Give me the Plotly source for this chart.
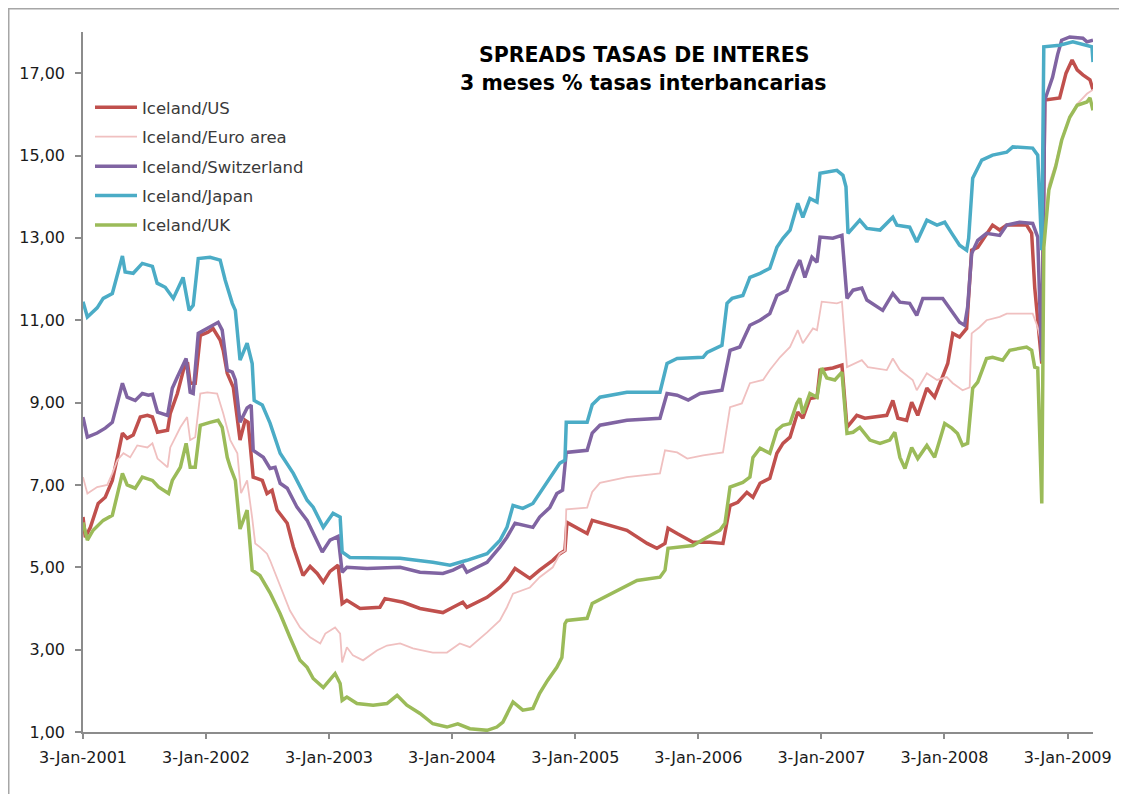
import plotly.graph_objects as go

# ---------------- data ----------------
series_names = ["Iceland/US", "Iceland/Euro area", "Iceland/Switzerland", "Iceland/Japan", "Iceland/UK"]

us_dates = ["2001-01-03","2001-01-10","2001-01-25","2001-02-17","2001-03-10","2001-03-31","2001-04-15","2001-04-30","2001-05-14","2001-06-01","2001-06-22","2001-07-13","2001-07-28","2001-08-12","2001-09-11","2001-09-19","2001-10-10","2001-10-28","2001-11-09","2001-11-17","2001-12-02","2001-12-17",
            "2002-01-09","2002-01-24","2002-02-14","2002-02-23","2002-03-07","2002-03-25","2002-04-14","2002-04-29","2002-05-08","2002-05-23","2002-06-19","2002-07-03","2002-07-18","2002-08-02","2002-09-01","2002-09-19","2002-10-18","2002-11-08","2002-11-29","2002-12-17",
            "2003-01-06","2003-01-30","2003-02-11","2003-02-25","2003-04-05","2003-06-03","2003-06-18","2003-08-11","2003-09-30","2003-12-07",
            "2004-01-06","2004-02-04","2004-02-16","2004-04-16","2004-05-24","2004-06-14","2004-07-08","2004-08-21","2004-09-19","2004-10-28","2004-11-18","2004-12-03","2004-12-09",
            "2005-02-07","2005-02-22","2005-03-17","2005-06-05","2005-08-04","2005-09-02","2005-09-26","2005-10-05","2005-11-01","2005-12-18",
            "2006-02-06","2006-03-17","2006-04-07","2006-04-30","2006-05-27","2006-06-14","2006-07-05","2006-08-03","2006-08-24","2006-09-11","2006-10-02","2006-10-25","2006-11-09","2006-11-30","2006-12-21","2006-12-30",
            "2007-02-06","2007-03-05","2007-03-20","2007-04-18","2007-05-12","2007-07-16","2007-08-03","2007-08-18","2007-09-13","2007-09-28","2007-10-16","2007-11-12","2007-12-05","2007-12-29",
            "2008-01-13","2008-01-28","2008-02-17","2008-03-09","2008-03-24","2008-04-11","2008-05-07","2008-05-25","2008-06-15","2008-07-06","2008-09-03","2008-09-18","2008-09-27","2008-10-18","2008-10-27","2008-12-10","2008-12-29",
            "2009-01-16","2009-01-31","2009-02-17","2009-03-10","2009-03-19"]
us_vals = [6.22,5.73,5.97,6.55,6.7,7.11,7.67,8.26,8.13,8.21,8.65,8.69,8.65,8.28,8.33,8.74,9.22,9.79,9.98,9.47,9.47,10.63,
           10.71,10.8,10.52,10.27,9.71,9.37,8.09,8.57,8.52,7.19,7.11,6.79,6.87,6.39,6.07,5.5,4.8,5.02,4.85,4.64,
           4.9,5.05,4.12,4.2,4.0,4.03,4.24,4.15,4.0,3.9,
           4.03,4.15,4.03,4.27,4.51,4.68,4.97,4.73,4.93,5.17,5.33,5.41,6.09,
           5.82,6.14,6.09,5.9,5.58,5.46,5.58,5.95,5.82,5.61,
           5.61,5.58,6.5,6.58,6.82,6.7,7.04,7.16,7.77,8.01,8.16,8.77,8.62,9.1,9.13,9.79,
           9.84,9.91,8.4,8.69,8.62,8.69,9.05,8.62,8.57,9.01,8.69,9.35,9.13,9.62,
           9.95,10.68,10.59,10.8,12.7,12.77,13.11,13.31,13.19,13.31,13.31,13.11,11.8,9.95,16.35,16.4,17.0,
           17.32,17.08,16.96,16.84,16.6]

euro_dates = ["2001-01-03","2001-01-16","2001-02-14","2001-03-16","2001-03-31","2001-04-15","2001-05-03","2001-05-23","2001-06-13","2001-07-13","2001-07-28","2001-08-12","2001-09-11","2001-09-19","2001-10-19","2001-11-08","2001-11-17","2001-12-02","2001-12-17",
              "2002-01-07","2002-02-05","2002-02-23","2002-03-16","2002-04-06","2002-04-17","2002-05-05","2002-05-20","2002-05-29","2002-06-12","2002-07-03","2002-07-12","2002-08-11","2002-09-09","2002-10-09","2002-11-08","2002-12-08","2002-12-23",
              "2003-01-21","2003-02-05","2003-02-11","2003-02-25","2003-03-15","2003-04-14","2003-05-25","2003-06-24","2003-08-02","2003-09-09","2003-11-07","2003-12-19",
              "2004-01-26","2004-02-25","2004-04-16","2004-05-24","2004-06-14","2004-07-02","2004-08-21","2004-09-19","2004-10-28","2004-11-18","2004-12-03","2004-12-07",
              "2005-02-07","2005-02-22","2005-03-17","2005-06-05","2005-09-11","2005-09-26","2005-11-01","2005-12-01",
              "2006-01-17","2006-03-17","2006-04-07","2006-05-12","2006-06-05","2006-07-14","2006-08-03","2006-09-02","2006-10-02","2006-10-25","2006-11-09","2006-12-09","2006-12-21",
              "2007-01-04","2007-02-18","2007-03-05","2007-03-20","2007-05-03","2007-05-21","2007-07-16","2007-08-03","2007-08-24","2007-10-01","2007-10-13","2007-11-12","2007-12-12",
              "2008-01-10","2008-01-28","2008-02-26","2008-03-18","2008-03-24","2008-04-16","2008-05-07","2008-06-15","2008-07-06","2008-09-21","2008-10-06","2008-10-15","2008-10-27","2008-11-08","2008-11-28","2008-12-16",
              "2009-01-09","2009-01-31","2009-03-01","2009-03-19"]
euro_vals = [7.19,6.79,6.95,7.0,7.28,7.6,7.77,7.67,7.96,7.91,8.01,7.64,7.43,7.91,8.4,8.65,8.09,8.16,9.22,
             9.25,9.22,8.74,8.09,7.77,6.8,7.11,6.2,5.58,5.49,5.33,5.17,4.55,3.95,3.54,3.3,3.15,3.39,
             3.54,3.39,2.69,3.06,2.86,2.74,2.98,3.1,3.15,3.03,2.93,2.93,
             3.15,3.06,3.42,3.71,4.03,4.36,4.51,4.76,5.0,5.33,5.4,6.41,
             6.45,6.83,7.05,7.19,7.28,7.84,7.79,7.64,
             7.72,7.79,8.89,8.98,9.47,9.55,9.79,10.1,10.35,10.76,10.44,10.8,10.76,
             11.45,11.41,11.45,9.86,10.03,9.86,9.79,10.07,9.79,9.55,9.3,9.71,9.55,
             9.62,9.47,9.3,9.37,10.68,10.83,11.0,11.08,11.16,11.16,10.83,10.5,13.5,14.3,14.8,15.4,
             15.95,16.25,16.5,16.6]

swiss_dates = ["2001-01-03","2001-01-16","2001-02-14","2001-03-10","2001-03-31","2001-04-15","2001-04-30","2001-05-14","2001-06-07","2001-06-28","2001-07-16","2001-07-28","2001-08-12","2001-09-11","2001-09-25","2001-10-10","2001-10-24","2001-11-05","2001-11-17","2001-11-26","2001-12-11",
               "2002-01-07","2002-01-24","2002-02-08","2002-02-20","2002-03-07","2002-03-22","2002-03-31","2002-04-14","2002-05-05","2002-05-17","2002-05-23","2002-06-22","2002-07-12","2002-07-27","2002-08-11","2002-09-01","2002-09-30","2002-10-30","2002-11-17","2002-12-14",
               "2003-01-06","2003-01-30","2003-02-11","2003-02-25","2003-04-26","2003-08-02","2003-09-30","2003-12-07",
               "2004-01-06","2004-02-04","2004-02-16","2004-04-16","2004-05-24","2004-06-14","2004-07-08","2004-08-30","2004-09-19","2004-10-19","2004-11-09","2004-11-26","2004-12-07",
               "2005-02-07","2005-02-22","2005-03-17","2005-06-05","2005-09-11","2005-10-02","2005-11-01","2005-12-04",
               "2006-01-08","2006-03-14","2006-04-07","2006-05-06","2006-06-05","2006-07-05","2006-08-03","2006-08-24","2006-09-23","2006-10-16","2006-10-31","2006-11-15","2006-12-06","2006-12-21","2006-12-30",
               "2007-02-06","2007-03-05","2007-03-20","2007-04-07","2007-05-03","2007-05-18","2007-07-04","2007-08-03","2007-08-24","2007-09-22","2007-10-13","2007-10-31","2007-12-29",
               "2008-01-25","2008-02-17","2008-03-03","2008-03-12","2008-03-24","2008-04-11","2008-05-07","2008-06-15","2008-07-06","2008-08-13","2008-09-21","2008-10-06","2008-10-12","2008-10-18","2008-10-27","2008-11-19","2008-12-04","2008-12-16",
               "2009-01-09","2009-02-17","2009-03-01","2009-03-19"]
swiss_vals = [8.65,8.16,8.26,8.38,8.52,8.98,9.47,9.13,9.05,9.22,9.18,9.2,8.77,8.69,9.35,9.62,9.84,10.07,9.25,9.22,10.68,
              10.8,10.88,10.95,10.76,9.79,9.74,9.55,8.52,8.87,8.94,7.84,7.67,7.4,7.43,7.04,6.92,6.46,6.14,5.83,5.37,
              5.66,5.75,4.88,5.0,4.97,5.0,4.88,4.85,
              4.93,5.05,4.88,5.12,5.49,5.73,6.07,5.97,6.22,6.45,6.79,6.87,7.79,
              7.84,8.26,8.45,8.57,8.62,9.22,9.18,9.06,
              9.22,9.3,10.27,10.35,10.88,11.0,11.16,11.6,11.73,12.21,12.46,12.04,12.53,12.41,13.02,
              12.99,13.06,11.53,11.73,11.78,11.49,11.24,11.65,11.44,11.41,11.12,11.53,11.53,
              11.2,10.95,10.88,11.32,12.62,12.94,13.11,13.06,13.31,13.38,13.35,13.02,11.41,10.0,16.35,16.9,17.45,17.8,
              17.88,17.85,17.76,17.8]

japan_dates = ["2001-01-03","2001-01-16","2001-02-14","2001-03-04","2001-03-31","2001-04-15","2001-04-30","2001-05-08","2001-06-01","2001-06-28","2001-07-28","2001-08-11","2001-09-04","2001-09-28","2001-10-27","2001-11-14","2001-11-26","2001-12-11",
               "2002-01-15","2002-02-14","2002-03-01","2002-03-22","2002-03-31","2002-04-14","2002-05-05","2002-05-20","2002-05-26","2002-06-19","2002-07-12","2002-08-11","2002-09-19","2002-10-30","2002-11-17","2002-12-17",
               "2003-01-15","2003-02-05","2003-02-11","2003-03-06","2003-08-02","2003-11-07","2003-12-28",
               "2004-02-16","2004-04-16","2004-05-24","2004-06-14","2004-07-02","2004-07-31","2004-08-30","2004-09-19","2004-10-28","2004-11-18","2004-12-03","2004-12-07",
               "2005-02-07","2005-02-22","2005-03-17","2005-06-05","2005-09-11","2005-10-02","2005-11-01",
               "2006-01-17","2006-01-29","2006-03-14","2006-03-29","2006-04-13","2006-05-15","2006-06-05","2006-07-05","2006-08-03","2006-08-24","2006-09-11","2006-10-02","2006-10-25","2006-11-09","2006-11-30","2006-12-21","2006-12-30",
               "2007-02-18","2007-03-08","2007-03-17","2007-03-23","2007-04-27","2007-05-18","2007-06-26","2007-08-03","2007-08-15","2007-09-22","2007-10-13","2007-11-12","2007-12-12",
               "2008-01-04","2008-01-25","2008-02-17","2008-03-09","2008-03-15","2008-03-27","2008-04-23","2008-05-25","2008-07-06","2008-07-24","2008-09-21","2008-10-06","2008-10-18","2008-10-24","2008-12-10",
               "2009-01-18","2009-03-01","2009-03-16","2009-03-19"]
japan_vals = [11.45,11.08,11.3,11.53,11.65,12.14,12.56,12.17,12.14,12.38,12.31,11.9,11.8,11.53,12.04,11.24,11.36,12.5,
              12.53,12.46,11.97,11.41,11.24,10.03,10.44,9.95,9.05,8.94,8.5,7.77,7.28,6.63,6.46,5.97,
              6.31,6.22,5.37,5.24,5.22,5.12,5.05,
              5.17,5.33,5.65,5.97,6.5,6.43,6.55,6.79,7.28,7.53,7.6,8.52,
              8.52,8.95,9.13,9.25,9.25,9.95,10.07,
              10.1,10.22,10.39,11.41,11.53,11.6,12.04,12.14,12.26,12.77,12.99,13.19,13.84,13.5,13.96,13.87,14.57,
              14.64,14.52,14.24,13.11,13.43,13.23,13.19,13.5,13.31,13.26,12.9,13.43,13.31,
              13.38,13.11,12.82,12.7,12.99,14.45,14.89,15.01,15.08,15.21,15.18,15.01,12.7,17.64,17.68,
              17.76,17.68,17.64,17.27]

uk_dates = ["2001-01-03","2001-01-16","2001-02-02","2001-03-04","2001-03-31","2001-04-15","2001-04-30","2001-05-14","2001-06-07","2001-06-28","2001-07-28","2001-08-15","2001-09-14","2001-09-25","2001-10-19","2001-11-05","2001-11-17","2001-12-02","2001-12-17",
            "2002-01-15","2002-02-08","2002-02-20","2002-03-07","2002-03-16","2002-03-31","2002-04-14","2002-05-05","2002-05-20","2002-06-12","2002-07-12","2002-08-11","2002-09-09","2002-10-09","2002-10-30","2002-11-17","2002-12-17",
            "2003-01-21","2003-02-05","2003-02-11","2003-02-25","2003-03-27","2003-05-14","2003-06-24","2003-07-24","2003-08-22","2003-09-30","2003-11-07","2003-12-19",
            "2004-01-20","2004-02-25","2004-04-16","2004-05-15","2004-06-02","2004-07-02","2004-07-31","2004-08-30","2004-09-19","2004-10-13","2004-11-09","2004-11-24","2004-12-03","2004-12-09",
            "2005-02-07","2005-02-22","2005-03-17","2005-05-06","2005-07-05","2005-09-11","2005-09-26","2005-10-05","2005-12-18",
            "2006-01-29","2006-03-08","2006-03-23","2006-04-07","2006-05-15","2006-06-05","2006-06-14","2006-07-05","2006-08-03","2006-08-24","2006-09-11","2006-10-02","2006-10-22","2006-10-31","2006-11-09","2006-11-30","2006-12-21",
            "2007-01-04","2007-01-19","2007-02-12","2007-03-05","2007-03-20","2007-04-07","2007-04-27","2007-05-27","2007-06-26","2007-07-25","2007-08-09","2007-08-24","2007-09-08","2007-09-28","2007-10-16","2007-11-12","2007-12-05",
            "2008-01-04","2008-01-25","2008-02-11","2008-02-26","2008-03-12","2008-03-27","2008-04-11","2008-05-07","2008-05-25","2008-06-24","2008-07-15","2008-09-03","2008-09-18","2008-09-27","2008-10-06","2008-10-18","2008-10-24","2008-11-08","2008-11-28","2008-12-16",
            "2009-01-09","2009-01-31","2009-03-01","2009-03-10","2009-03-19"]
uk_vals = [6.09,5.66,5.9,6.14,6.26,6.79,7.28,7.0,6.92,7.19,7.11,6.95,6.79,7.11,7.43,8.01,7.43,7.43,8.45,
           8.52,8.57,8.4,7.67,7.43,7.11,5.93,6.39,4.93,4.8,4.38,3.87,3.3,2.74,2.57,2.3,2.08,
           2.42,2.18,1.77,1.85,1.69,1.65,1.69,1.89,1.65,1.45,1.2,1.12,
           1.2,1.08,1.04,1.12,1.24,1.73,1.53,1.57,1.94,2.26,2.57,2.81,3.63,3.71,
           3.76,4.12,4.22,4.44,4.68,4.76,4.93,5.46,5.53,
           5.73,5.9,6.07,6.95,7.06,7.19,7.67,7.89,7.77,8.33,8.45,8.49,8.98,9.1,8.74,9.22,9.13,
           9.84,9.6,9.55,9.74,8.25,8.28,8.4,8.09,8.01,8.09,8.28,7.67,7.4,7.91,7.64,7.96,7.67,
           8.49,8.38,8.25,7.96,8.01,9.35,9.5,10.07,10.1,10.03,10.27,10.35,10.27,9.86,9.84,6.55,12.77,14.16,14.72,15.37,
           15.93,16.22,16.3,16.4,16.1]

x_tick_dates = ["2001-01-03","2002-01-03","2003-01-03","2004-01-03","2005-01-03","2006-01-03","2007-01-03","2008-01-03","2009-01-03"]
y_tick_vals = [1, 3, 5, 7, 9, 11, 13, 15, 17]
title_line1 = "SPREADS TASAS DE INTERES"
title_line2 = "3 meses % tasas interbancarias"

# ---------------- styling ----------------
colors = ["#C0504D", "#F0C0C0", "#8064A2", "#4BACC6", "#9BBB59"]
widths = [3.5, 1.8, 3.5, 3.5, 3.5]
all_dates = [us_dates, euro_dates, swiss_dates, japan_dates, uk_dates]
all_vals = [us_vals, euro_vals, swiss_vals, japan_vals, uk_vals]

FONT = "DejaVu Sans"

fig = go.Figure()
for i, name in enumerate(series_names):
    fig.add_trace(go.Scatter(
        x=all_dates[i], y=all_vals[i], mode="lines", name=name,
        legendgroup=name,
        line=dict(color=colors[i], width=widths[i]),
    ))

# The page body adds an 8 px offset; the figure is sized so the plot area
# lands on screen at x 83..1093, y 32..732.
OFF = 8
W, H = 1119, 786
PX0, PX1, PY0, PY1 = 83, 1093, 32, 732
L, T = PX0 - OFF, PY0 - OFF
R = W - L - (PX1 - PX0)
B = H - T - (PY1 - PY0)
pw, ph = PX1 - PX0, PY1 - PY0

def px_x(px):
    return (px - PX0) / pw

def px_y(py):
    return (PY1 - py) / ph

fig.update_layout(
    width=W, height=H,
    margin=dict(l=L, r=R, t=T, b=B, autoexpand=False),
    paper_bgcolor="white", plot_bgcolor="white",
    separators=",.",
    font=dict(family=FONT, size=16, color="#222222"),
    showlegend=True,
    legend=dict(
        x=px_x(90), y=px_y(90), xanchor="left", yanchor="top",
        bgcolor="rgba(0,0,0,0)", borderwidth=0,
        font=dict(family=FONT, size=16.5, color="#3a3a3a"),
        traceorder="grouped", tracegroupgap=5,
        itemwidth=42,
    ),
    xaxis=dict(
        type="date", range=["2001-01-03", "2009-03-19"],
        tickvals=x_tick_dates, tickformat="%-d-%b-%Y",
        showgrid=False, zeroline=False,
        showline=True, linecolor="#8C8C8C", linewidth=1.5,
        ticks="outside", ticklen=5, tickcolor="#8C8C8C", tickwidth=1.5,
        tickfont=dict(family=FONT, size=16, color="#1a1a1a"),
        ticklabelstandoff=5,
    ),
    yaxis=dict(
        range=[1, 18], tickvals=y_tick_vals, tickformat=".2f",
        showgrid=False, zeroline=False,
        showline=True, linecolor="#8C8C8C", linewidth=1.5,
        ticks="outside", ticklen=6, tickcolor="#8C8C8C", tickwidth=1.5,
        tickfont=dict(family=FONT, size=16, color="#1a1a1a"),
        ticklabelstandoff=7,
    ),
    annotations=[
        dict(text="<b>" + title_line1 + "</b>", x=px_x(644), y=px_y(55), xref="paper", yref="paper",
             xanchor="center", yanchor="middle", showarrow=False,
             font=dict(family=FONT, size=20.5, color="#000000")),
        dict(text="<b>" + title_line2 + "</b>", x=px_x(643), y=px_y(83), xref="paper", yref="paper",
             xanchor="center", yanchor="middle", showarrow=False,
             font=dict(family=FONT, size=20.5, color="#000000")),
    ],
    shapes=[
        dict(type="rect", xref="paper", yref="paper",
             x0=px_x(OFF + 0.75), x1=px_x(1200), y0=px_y(900), y1=px_y(OFF + 0.75),
             line=dict(color="#A6A6A6", width=1.5), fillcolor="rgba(0,0,0,0)", layer="below"),
    ],
)

fig.write_html("out.html")
